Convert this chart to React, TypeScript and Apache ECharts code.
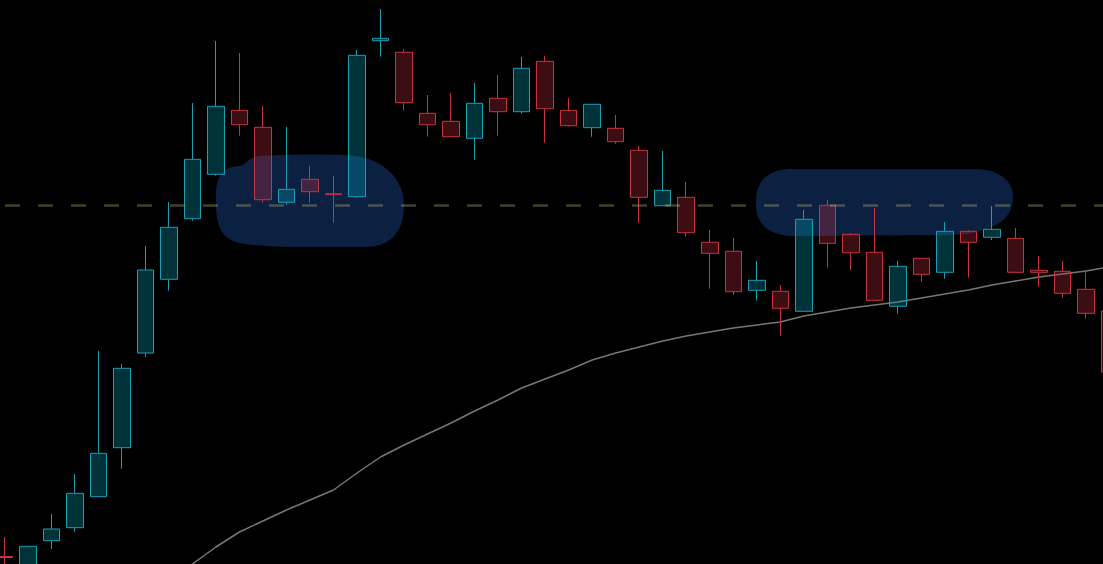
import React, { useEffect, useRef } from "react";
import * as echarts from "echarts";

// Candles: [open, close, lowest, highest] (price units, chart height = 564)
const candles: number[][] = [
  [7.5, 6.5, -3, 27],
  [-11, 17.7, -14, 17.7],
  [23.3, 35, 15, 50],
  [36.3, 70.7, 32, 90],
  [67.3, 110.7, 67.3, 213],
  [116.3, 195.7, 95.3, 200],
  [211, 294, 207, 318],
  [284.7, 336.7, 273.3, 362],
  [345.3, 404.7, 343.3, 461],
  [389.7, 457.7, 388.3, 523],
  [453.7, 439.3, 428.3, 511],
  [436.7, 364.3, 361.3, 458],
  [361.7, 374.7, 359.3, 437],
  [384.7, 372.3, 361.3, 398],
  [370.2, 369.4, 341.3, 388],
  [367.3, 508.7, 366.3, 514],
  [523.3, 525.7, 507.3, 555],
  [511.7, 461.3, 453.3, 515],
  [450.7, 439.3, 427.3, 469],
  [442.7, 427.3, 427.3, 471],
  [425.7, 460.7, 404.3, 481],
  [465.7, 452.3, 428.3, 489],
  [452.3, 495.7, 450.3, 507],
  [502.7, 455.3, 421.3, 508],
  [453.7, 438.3, 437.3, 466],
  [436.3, 459.7, 427.3, 459.7],
  [435.7, 422.3, 420.3, 449],
  [413.7, 366.7, 341.3, 418],
  [358.3, 373.7, 358.3, 413],
  [366.7, 331.3, 327.3, 382],
  [321.7, 310.7, 275.3, 334],
  [312.7, 272.3, 269.3, 326],
  [273.7, 283.7, 263.3, 303],
  [272.7, 255.7, 228.3, 279],
  [252.7, 344.7, 252.7, 354],
  [358.7, 320.7, 296.3, 364],
  [329.7, 311.3, 294.3, 331],
  [311.7, 263.7, 263.7, 356],
  [257.7, 297.7, 250.3, 303],
  [305.7, 289.7, 282.3, 305.7],
  [291.7, 332.7, 285.3, 342],
  [332.7, 321.7, 286.3, 334],
  [326.7, 334.7, 324, 358],
  [325.7, 291.7, 291.7, 336],
  [293.7, 291.7, 277.3, 308],
  [292.7, 270.7, 266.3, 303],
  [274.7, 250.7, 245.3, 294],
  [253, 192, 192, 253],
];

// Moving average values (null = not yet defined)
const maValues: (number | null)[] = [
  null, null, null, null, null, null, null,
  -18, 0, 17, 32, 43, 54, 64, 74, 91, 107, 119, 130, 141, 153, 164, 176,
  185, 194, 204, 211, 217, 223, 228, 232, 236, 239, 242, 248, 252, 256,
  259, 262, 266, 270, 274, 279, 283, 287, 290, 293, 297,
];

const levelValue = 359;

const hl1 =
  "M 216 195 C 216 175 225 166 240 166 C 244 166 246 160 255 157 C 270 154 340 154 355 156 C 385 160 404 180 404 205 C 404 232 390 247 365 247 L 290 247 C 265 246 250 245 240 243 C 222 240 216 225 216 205 Z";
const hl2 =
  "M 790 169 L 975 169 C 998 169 1013 180 1013 197 C 1013 217 998 230 965 234 L 950 235 L 795 236 C 770 236 756 225 756 205 L 756 200 C 756 180 770 169 790 169 Z";

let registered = false;
function registerShapes() {
  if (registered) return;
  echarts.graphic.registerShape("hl1", echarts.graphic.extendPath(hl1, {}) as any);
  echarts.graphic.registerShape("hl2", echarts.graphic.extendPath(hl2, {}) as any);
  registered = true;
}

export default function App() {
  const ref = useRef<HTMLDivElement>(null);
  useEffect(() => {
    document.body.style.margin = "0";
    document.body.style.background = "#000";
    registerShapes();
    const chart = echarts.init(ref.current!, null, { renderer: "svg" });
    const candleData = candles.map((c, i) => [i, c[0], c[1], c[2], c[3]]);
    const maData = maValues
      .map((v, i) => (v === null ? null : [i, v]))
      .filter((d) => d !== null);
    chart.setOption({
      animation: false,
      backgroundColor: "#000000",
      grid: { left: 0, right: 0, top: 0, bottom: 0 },
      xAxis: {
        type: "value",
        min: -0.182,
        max: 46.722,
        show: false,
        splitLine: { show: false },
      },
      yAxis: { type: "value", min: 0, max: 564, show: false, splitLine: { show: false } },
      graphic: [
        { type: "hl1", x: 0, y: 0, z: 0, style: { fill: "#0c2041" } },
        { type: "hl2", x: 0, y: 0, z: 0, style: { fill: "#0c2041" } },
      ],
      series: [
        {
          type: "candlestick",
          data: candleData,
          encode: { x: 0, y: [1, 2, 3, 4] },
          barWidth: 17,
          z: 3,
          itemStyle: {
            color: "rgba(0,167,193,0.3)",
            color0: "rgba(200,47,67,0.3)",
            borderColor: "#1a9db5",
            borderColor0: "#c9323f",
            borderWidth: 1,
          },
          markLine: {
            silent: true,
            symbol: ["none", "none"],
            label: { show: false },
            lineStyle: {
              type: [15, 18],
              dashOffset: 28,
              color: "rgba(186,186,128,0.35)",
              width: 2.5,
            },
            data: [{ yAxis: levelValue }],
          },
        },
        {
          type: "line",
          data: maData,
          showSymbol: false,
          symbol: "none",
          smooth: false,
          z: 2,
          lineStyle: { color: "#777777", width: 1.5 },
        },
      ],
    });
    return () => chart.dispose();
  }, []);
  return <div ref={ref} style={{ width: 1103, height: 564 }} />;
}
